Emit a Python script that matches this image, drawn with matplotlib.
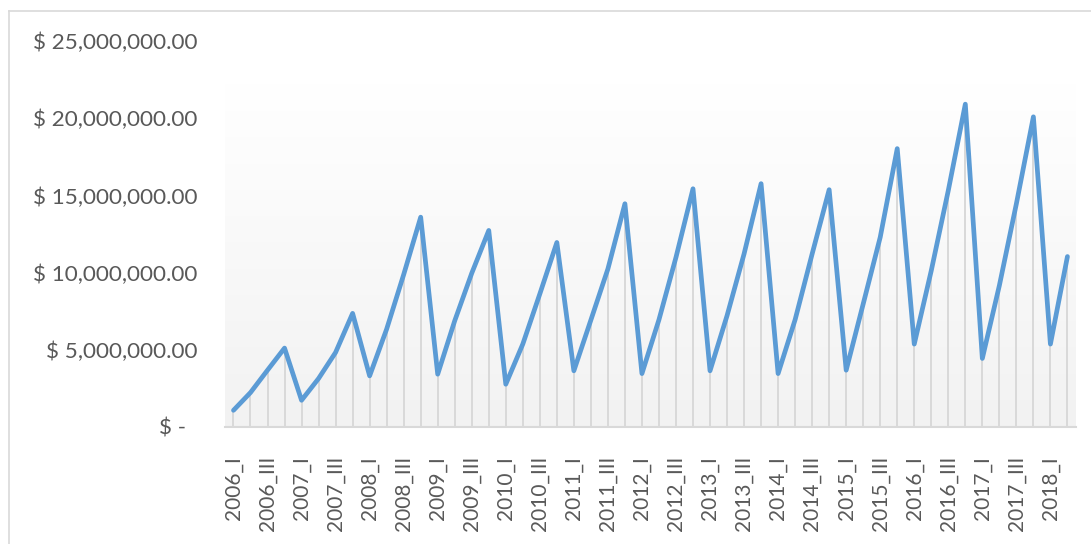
import numpy as np
import matplotlib
matplotlib.use("Agg")
import matplotlib.pyplot as plt
from matplotlib.lines import Line2D
from matplotlib.ticker import FuncFormatter

plt.rcParams['font.family'] = ['Lato', 'DejaVu Sans']

# Quarterly series, 2006_I .. 2018_II
years = list(range(2006, 2019))
quarters = ["I", "II", "III", "IV"]
periods = [f"{y}_{q}" for y in years for q in quarters][:50]

values = [
    1.08e6, 2.23e6, 3.68e6, 5.11e6,      # 2006
    1.73e6, 3.14e6, 4.83e6, 7.36e6,      # 2007
    3.31e6, 6.34e6, 9.87e6, 13.59e6,     # 2008
    3.42e6, 6.88e6, 9.96e6, 12.73e6,     # 2009
    2.77e6, 5.37e6, 8.62e6, 11.95e6,     # 2010
    3.64e6, 6.93e6, 10.24e6, 14.46e6,    # 2011
    3.46e6, 6.95e6, 10.99e6, 15.43e6,    # 2012
    3.64e6, 7.21e6, 11.21e6, 15.76e6,    # 2013
    3.46e6, 6.95e6, 11.21e6, 15.37e6,    # 2014
    3.68e6, 7.97e6, 12.29e6, 18.03e6,    # 2015
    5.37e6, 10.13e6, 15.32e6, 20.91e6,   # 2016
    4.44e6, 9.16e6, 14.46e6, 20.09e6,    # 2017
    5.37e6, 11.04e6,                     # 2018
]

TEXT = "#595959"
LINE = "#5B9BD5"
DROP = "#D9D9D9"

fig = plt.figure(figsize=(10.91, 5.44), dpi=100)
ax = fig.add_axes([0.2062, 0.2151, 0.7800, 0.7095])

x = np.arange(len(values))
ax.set_xlim(-0.5, len(values) - 0.5)

# plot-area background: vertical white-to-grey gradient
grad = np.linspace(1.0, 0.0, 256).reshape(-1, 1)
cmap = matplotlib.colors.LinearSegmentedColormap.from_list("bg", ["#F2F2F2", "#FFFFFF"])
ax.imshow(grad, extent=[-0.5, len(values) - 0.5, 0, 22.2e6], aspect="auto",
          cmap=cmap, origin="upper", zorder=0, interpolation="bicubic")
ax.set_ylim(0, 25e6)

# drop lines from each point to the category axis
ax.vlines(x, 0, values, colors=DROP, linewidth=1.4, zorder=1)
ax.plot(x, values, color=LINE, linewidth=3.4, solid_joinstyle="round",
        solid_capstyle="round", zorder=3)

for s in ["top", "right", "left"]:
    ax.spines[s].set_visible(False)
ax.spines["bottom"].set_color(DROP)
ax.spines["bottom"].set_linewidth(1.5)

ax.set_yticks(np.arange(0, 25e6 + 1, 5e6))
ax.yaxis.set_major_formatter(FuncFormatter(
    lambda v, p: "$ -  " if v == 0 else f"$ {v:,.2f}"))
ax.tick_params(axis="y", length=0, pad=20, labelsize=16.2, labelcolor=TEXT)

ax.set_xticks(x[::2])
ax.set_xticklabels(periods[::2], rotation=90, va="top", ha="center")
ax.tick_params(axis="x", length=0, pad=21, labelsize=15, labelcolor=TEXT)

# chart frame
fig.add_artist(Line2D([9 / 1091, 1.0], [1 - 11 / 544] * 2, color=DROP, linewidth=1.2))
fig.add_artist(Line2D([9 / 1091] * 2, [0.0, 1 - 11 / 544], color=DROP, linewidth=1.2))

fig.savefig("out.png", dpi=100, facecolor="white")
